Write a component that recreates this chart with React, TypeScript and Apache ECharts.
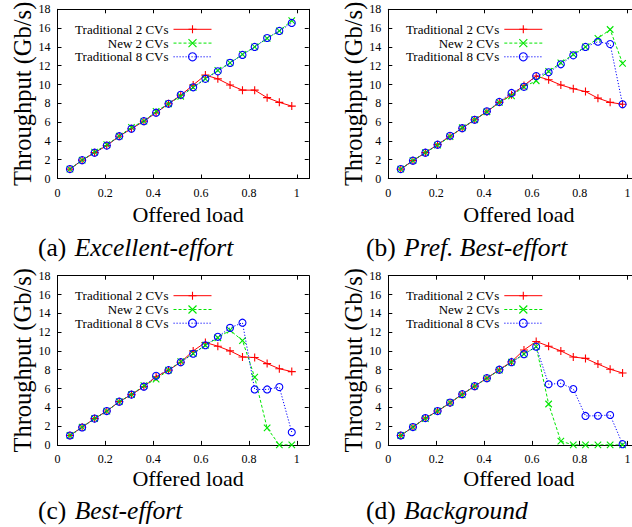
import React, { useEffect, useRef } from 'react';
import * as echarts from 'echarts';

// ---- data ----
const loads = [0.052, 0.103, 0.155, 0.206, 0.258, 0.309, 0.361, 0.412, 0.464, 0.515, 0.567, 0.618, 0.670, 0.721, 0.773, 0.824, 0.876, 0.927, 0.979];
const seriesNames = ['Traditional 2 CVs', 'New 2 CVs', 'Traditional 8 CVs'];
const captionLetters = ['(a)', '(b)', '(c)', '(d)'];
const captionNames = ['Excellent-effort', 'Pref. Best-effort', 'Best-effort', 'Background'];
const xTitle = 'Offered load';
const yTitle = 'Throughput (Gb/s)';

const excellentTrad2 = [1.0, 1.95, 2.75, 3.5, 4.5, 5.3, 6.1, 7.0, 7.95, 8.85, 9.95, 11.0, 10.6, 9.95, 9.4, 9.4, 8.6, 8.1, 7.7];
const excellentNew2 = [1.0, 1.95, 2.8, 3.6, 4.5, 5.45, 6.1, 7.15, 7.95, 8.75, 9.7, 10.6, 11.5, 12.3, 13.2, 14.0, 14.9, 15.7, 16.8];
const excellentTrad8 = [1.0, 1.95, 2.75, 3.5, 4.5, 5.3, 6.1, 7.0, 7.95, 8.9, 9.7, 10.6, 11.4, 12.3, 13.15, 14.0, 14.95, 15.7, 16.55];

const prefTrad2 = [1.0, 1.9, 2.75, 3.6, 4.5, 5.35, 6.25, 7.1, 8.1, 8.9, 9.9, 10.9, 10.5, 9.95, 9.55, 9.25, 8.55, 8.1, 7.9];
const prefNew2 = [1.0, 1.9, 2.75, 3.55, 4.45, 5.4, 6.25, 7.1, 8.1, 8.8, 9.75, 10.4, 11.4, 12.3, 13.2, 14.0, 14.9, 15.85, 12.25];
const prefTrad8 = [1.0, 1.9, 2.75, 3.6, 4.55, 5.35, 6.25, 7.15, 8.15, 9.1, 9.75, 10.9, 11.3, 12.15, 13.1, 14.0, 14.55, 14.3, 7.9];

const bestTrad2 = [1.0, 1.9, 2.8, 3.6, 4.6, 5.35, 6.2, 7.25, 7.95, 8.8, 10.0, 10.9, 10.5, 10.0, 9.35, 9.3, 8.65, 8.1, 7.8];
const bestNew2 = [1.0, 1.9, 2.8, 3.6, 4.6, 5.35, 6.3, 7.0, 7.95, 8.85, 9.7, 10.6, 11.4, 12.2, 11.1, 7.2, 1.8, 0.0, 0.0];
const bestTrad8 = [1.0, 1.85, 2.8, 3.6, 4.6, 5.35, 6.2, 7.35, 7.95, 8.8, 9.7, 10.6, 11.5, 12.45, 13.0, 5.9, 5.9, 6.15, 1.35];

const bgTrad2 = [1.0, 1.9, 2.85, 3.6, 4.45, 5.4, 6.25, 7.1, 8.0, 8.85, 10.1, 11.0, 10.5, 10.0, 9.35, 9.2, 8.6, 8.05, 7.65];
const bgNew2 = [1.0, 1.9, 2.8, 3.6, 4.5, 5.35, 6.25, 7.1, 7.95, 8.8, 9.65, 10.45, 4.35, 0.4, 0.0, 0.0, 0.0, 0.0, 0.0];
const bgTrad8 = [1.0, 1.9, 2.85, 3.6, 4.5, 5.4, 6.25, 7.1, 8.0, 8.8, 9.65, 10.45, 6.45, 6.55, 5.95, 3.08, 3.1, 3.18, 0.08];

const panelData = [
  [excellentTrad2, excellentNew2, excellentTrad8],
  [prefTrad2, prefNew2, prefTrad8],
  [bestTrad2, bestNew2, bestTrad8],
  [bgTrad2, bgNew2, bgTrad8],
];

// ---- layout / style ----
const W = 632;
const H = 527;
const PX_PER_UNIT = 239.3;
const PH = 169.2;
const panels = [
  { left: 57.5, top: 9.3, xMax: 1.05 },
  { left: 388.3, top: 9.3, xMax: (632 - 388.3) / 239.3 },
  { left: 57.5, top: 275.7, xMax: 1.05 },
  { left: 388.3, top: 275.7, xMax: (632 - 388.3) / 239.3 },
];
const FONT = 'Liberation Serif';

const seriesStyles = [
  { color: '#ff0000', symbol: 'path://M5,0L5,10M0,5L10,5', size: 8, dash: 'solid' as any, fill: '#ff0000' },
  { color: '#00e600', symbol: 'path://M0,0L10,10M10,0L0,10', size: 6.5, dash: [3, 2] as any, fill: '#00e600' },
  { color: '#0000ff', symbol: 'circle', size: 7, dash: [1.2, 1.8] as any, fill: 'rgba(0,0,255,0)' },
];
const legendRowOffsets = [18.5, 32.3, 46];

function measure(text: string, font: string): number {
  const c = document.createElement('canvas').getContext('2d');
  if (!c) return text.length * 10;
  c.font = font;
  return c.measureText(text).width;
}

export default function App() {
  const ref = useRef<HTMLDivElement>(null);
  useEffect(() => {
    if (!ref.current) return;
    document.body.style.margin = '0';
    const chart = echarts.init(ref.current, null, { renderer: 'svg', width: W, height: H });

    const grid: any[] = [];
    const xAxis: any[] = [];
    const yAxis: any[] = [];
    const series: any[] = [];
    const legend: any[] = [];
    const graphic: any[] = [];

    const axisLine = { show: true, onZero: false, lineStyle: { color: '#000', width: 1 } };
    const axisTick = { show: true, inside: true, length: 4, lineStyle: { color: '#000', width: 1 } };
    const capSize = 25.5;

    panels.forEach((p, i) => {
      const PW = p.xMax * PX_PER_UNIT;
      const clipped = p.xMax < 1.04;
      grid.push({ left: p.left, top: p.top, width: PW, height: PH, containLabel: false, outerBoundsMode: 'none' });
      const xBase = {
        gridIndex: i, type: 'value', min: 0, max: p.xMax, interval: 0.2,
        axisLine, axisTick, splitLine: { show: false },
      };
      xAxis.push({
        ...xBase, position: 'bottom',
        axisLabel: {
          show: true, margin: 8, fontFamily: FONT, fontSize: 12, color: '#000',
          formatter: (v: number) => (v > 1.001 ? '' : String(Math.round(v * 10) / 10)),
        },
      });
      xAxis.push({ ...xBase, position: 'top', axisLabel: { show: false } });
      const yBase = {
        gridIndex: i, type: 'value', min: 0, max: 18, interval: 2,
        axisLine, axisTick, splitLine: { show: false },
      };
      yAxis.push({
        ...yBase, position: 'left',
        axisLabel: { show: true, margin: 7, fontFamily: FONT, fontSize: 12, color: '#000' },
      });
      yAxis.push({ ...yBase, position: 'right', show: !clipped, axisLabel: { show: false } });

      panelData[i].forEach((vals, j) => {
        const st = seriesStyles[j];
        series.push({
          type: 'line',
          name: seriesNames[j],
          xAxisIndex: 2 * i,
          yAxisIndex: 2 * i,
          data: loads.map((x, k) => [x, vals[k]]),
          symbol: st.symbol,
          symbolSize: st.size,
          showAllSymbol: true,
          lineStyle: { color: st.color, width: 1, type: st.dash },
          itemStyle: { color: st.fill, borderColor: st.color, borderWidth: 1.1 },
          z: 2 + j,
          emphasis: { disabled: true },
        });
        legend.push({
          data: [seriesNames[j]],
          orient: 'horizontal',
          align: 'right',
          right: W - (p.left + 154.5),
          top: p.top + legendRowOffsets[j] - 5,
          itemWidth: 38,
          itemHeight: 10,
          padding: 0,
          selectedMode: false,
          textStyle: { fontFamily: FONT, fontSize: 13, color: '#000' },
          itemStyle: { borderWidth: 1.1 },
          lineStyle: { width: 1 },
        });
      });

      const plotW = 1.05 * PX_PER_UNIT;
      // y title
      graphic.push({
        type: 'text',
        x: p.left - 35,
        y: p.top + PH / 2,
        rotation: Math.PI / 2,
        style: {
          text: yTitle, fill: '#000', font: `24.5px ${FONT}`,
          align: 'center', verticalAlign: 'middle',
        },
      });
      // x title
      graphic.push({
        type: 'text',
        x: p.left + plotW / 2 + 5,
        y: p.top + PH + (i < 2 ? 35.5 : 33.5),
        style: {
          text: xTitle, fill: '#000', font: `22px ${FONT}`,
          align: 'center', verticalAlign: 'middle',
        },
      });
      // caption: upright letter + italic name
      const capX = i % 2 === 0 ? 38 : 366;
      const capY = p.top + PH + (i < 2 ? 68.5 : 66);
      const letterW = measure(captionLetters[i] + ' ', `${capSize}px ${FONT}`);
      graphic.push({
        type: 'text',
        x: capX,
        y: capY,
        style: {
          text: captionLetters[i], fill: '#000', font: `${capSize}px ${FONT}`,
          align: 'left', verticalAlign: 'middle',
        },
      });
      graphic.push({
        type: 'text',
        x: capX + letterW + 2,
        y: capY,
        style: {
          text: captionNames[i], fill: '#000', font: `italic ${capSize}px ${FONT}`,
          align: 'left', verticalAlign: 'middle',
        },
      });
    });

    chart.setOption({
      animation: false,
      backgroundColor: '#fff',
      grid, xAxis, yAxis, series, legend, graphic,
      tooltip: { show: false },
    });
    return () => chart.dispose();
  }, []);
  return <div ref={ref} style={{ position: 'absolute', left: 0, top: 0, width: W, height: H }} />;
}
